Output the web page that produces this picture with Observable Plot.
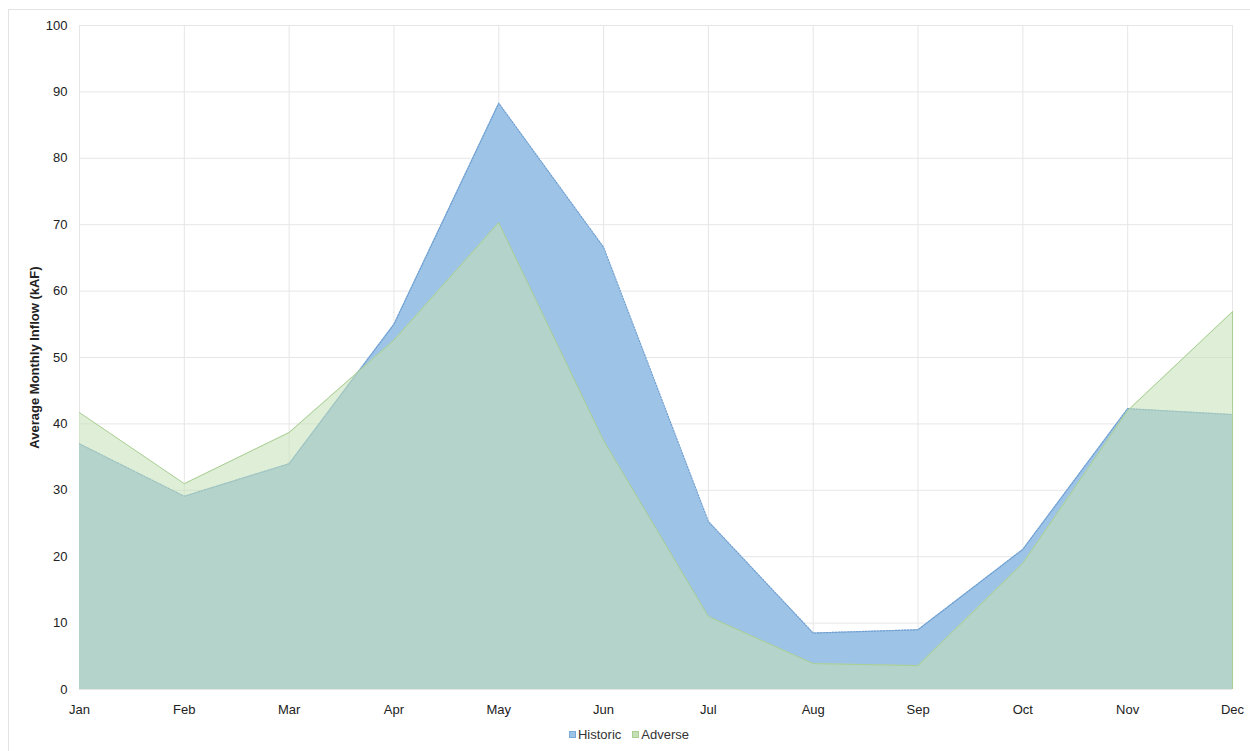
<!DOCTYPE html>
<html>
<head>
<meta charset="utf-8">
<script src="https://cdn.jsdelivr.net/npm/d3@7"></script>
<script src="https://cdn.jsdelivr.net/npm/@observablehq/plot@0.6"></script>
<style>
  html, body { margin: 0; padding: 0; background: #fff; }
  body { width: 1250px; height: 751px; position: relative; overflow: hidden; font-family: "Liberation Sans", Arial, sans-serif; }
  #frame { position: absolute; left: 8px; top: 9px; width: 1250px; height: 760px; border-left: 1px solid #e3e3e3; border-top: 1px solid #e3e3e3; }
  #chart { position: absolute; left: 0; top: 0; }
  #chart svg, #chart svg text { font-size: 13px !important; font-family: "Liberation Sans", Arial, sans-serif !important; }
  #chart g[aria-label="y-axis label"] text { font-weight: bold; }
  #legend { position: absolute; left: 0; width: 1250px; top: 727px; display: flex; justify-content: center; gap: 11px; font-size: 13px; color: #333; padding-left: 8px; box-sizing: border-box; }
  #legend .item { display: flex; align-items: center; }
  #legend .sw { width: 7px; height: 7px; margin-right: 2px; box-sizing: border-box; }
</style>
</head>
<body>
<div id="frame"></div>
<div id="chart"></div>
<div id="legend"></div>
<script>
const months = ["Jan","Feb","Mar","Apr","May","Jun","Jul","Aug","Sep","Oct","Nov","Dec"];
const historic = [37.0, 29.1, 34.0, 55.0, 88.3, 66.6, 25.3, 8.5, 9.0, 21.1, 42.3, 41.4];
const adverse  = [41.7, 31.0, 38.7, 52.6, 70.3, 37.5, 11.0, 3.9, 3.6, 19.0, 42.0, 56.9];
const yTicks = [0,10,20,30,40,50,60,70,80,90,100];
const seriesNames = ["Historic", "Adverse"];
const seriesColors = ["#9dc3e6", "#c5e0b4"];

const hData = months.map((m, i) => ({month: m, value: historic[i]}));
const aData = months.map((m, i) => ({month: m, value: adverse[i]}));

const chart = Plot.plot({
  width: 1250,
  height: 720,
  marginLeft: 79,
  marginRight: 18,
  marginTop: 25,
  marginBottom: 31,
  style: { fontFamily: "'Liberation Sans', Arial, sans-serif", fontSize: "13px", color: "#333", background: "transparent" },
  x: { type: "point", domain: months, padding: 0, round: false, label: null },
  y: { domain: [0, 100], ticks: yTicks, label: "Average Monthly Inflow (kAF)" },
  marks: [
    Plot.gridY(yTicks, { stroke: "#e6e6e6", strokeOpacity: 1 }),
    Plot.gridX(months, { stroke: "#e6e6e6", strokeOpacity: 1 }),
    Plot.areaY(hData, { x: "month", y: "value", fill: seriesColors[0], fillOpacity: 1 }),
    Plot.lineY(hData, { x: "month", y: "value", stroke: "#6f9fd0", strokeWidth: 1.2, strokeDasharray: "1.5,1.5" }),
    Plot.areaY(aData, { x: "month", y: "value", fill: seriesColors[1], fillOpacity: 0.55 }),
    Plot.lineY(aData, { x: "month", y: "value", stroke: "#a9cf94", strokeWidth: 1 }),
    Plot.ruleX(["Dec"], { y1: 0, y2: adverse[11], stroke: "#a9cf94", strokeWidth: 1 }),
    Plot.axisY(yTicks, { tickSize: 0, tickPadding: 12, label: "Average Monthly Inflow (kAF)", labelAnchor: "center", labelArrow: "none", labelOffset: 50, fill: "#222" }),
    Plot.axisX(months, { tickSize: 0, tickPadding: 15, label: null, fill: "#222" })
  ]
});
document.getElementById("chart").appendChild(chart);

const legend = document.getElementById("legend");
const borders = ["#7aaad8", "#a9cf94"];
seriesNames.forEach((n, i) => {
  const it = document.createElement("div");
  it.className = "item";
  const sw = document.createElement("span");
  sw.className = "sw";
  sw.style.background = seriesColors[i];
  sw.style.border = "1px solid " + borders[i];
  const t = document.createElement("span");
  t.textContent = n;
  it.appendChild(sw); it.appendChild(t);
  legend.appendChild(it);
});
</script>
</body>
</html>
